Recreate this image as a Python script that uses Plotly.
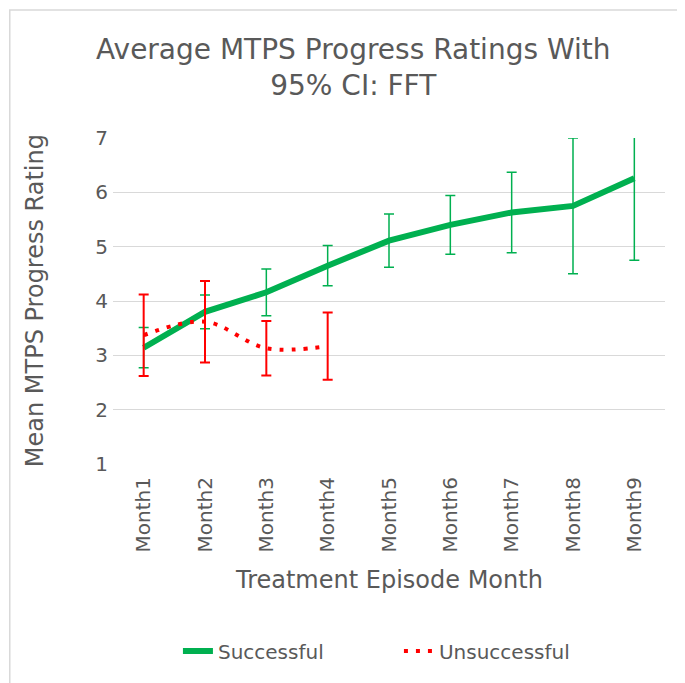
import plotly.graph_objects as go

# data
months = ["Month1", "Month2", "Month3", "Month4", "Month5",
          "Month6", "Month7", "Month8", "Month9"]

successful = [3.14, 3.80, 4.16, 4.65, 5.11, 5.40, 5.63, 5.75, 6.26]
successful_ci = [0.37, 0.31, 0.43, 0.37, 0.49, 0.54, 0.74, 1.25, 1.51]

unsuccessful_months = ["Month1", "Month2", "Month3", "Month4"]
unsuccessful = [3.37, 3.62, 3.13, 3.17]
unsuccessful_ci = [0.75, 0.75, 0.50, 0.62]

y_ticks = [1, 2, 3, 4, 5, 6, 7]

FONT = "DejaVu Sans"
GREY = "#595959"
GREEN = "#00B050"
RED = "#FF0000"

fig = go.Figure()
fig.add_trace(go.Scatter(
    x=months, y=successful, name="Successful", mode="lines",
    line=dict(color=GREEN, width=6),
    error_y=dict(type="data", array=successful_ci, visible=True,
                 color=GREEN, thickness=1.5, width=5),
))
fig.add_trace(go.Scatter(
    x=unsuccessful_months, y=unsuccessful, name="Unsuccessful", mode="lines",
    line=dict(color=RED, width=4, dash="4px,8px", shape="spline"),
    error_y=dict(type="data", array=unsuccessful_ci, visible=True,
                 color=RED, thickness=2, width=5),
))

# outer chart border
fig.add_shape(type="rect", xref="paper", yref="paper",
              x0=-0.187, x1=1.06, y0=-0.72, y1=1.393,
              line=dict(color="#D9D9D9", width=1.5), fillcolor="rgba(0,0,0,0)")

# axis titles
fig.add_annotation(text="Mean MTPS Progress Rating", xref="paper", yref="paper",
                   x=-0.141, y=0.5, xanchor="center", yanchor="middle",
                   textangle=-90, showarrow=False,
                   font=dict(size=24, color=GREY))
fig.add_annotation(text="Treatment Episode Month", xref="paper", yref="paper",
                   x=0.5, y=-0.356, xanchor="center", yanchor="middle",
                   showarrow=False, font=dict(size=24, color=GREY))

# page body adds an 8px margin, so the figure is a bit smaller than the window
fig.update_layout(
    width=677, height=675,
    margin=dict(l=105, r=20, t=130, b=219),
    paper_bgcolor="white", plot_bgcolor="white",
    font=dict(family=FONT, color=GREY),
    title=dict(text="Average MTPS Progress Ratings With<br>95% CI: FFT",
               x=0.51, xanchor="center", y=0.925, yanchor="top",
               font=dict(size=28, color=GREY)),
    xaxis=dict(tickangle=-90, tickfont=dict(size=20, color=GREY), automargin=False,
               ticklabelstandoff=8,
               range=[-0.5, 8.5], showgrid=False, showline=False, ticks=""),
    yaxis=dict(range=[1, 7], tickvals=y_ticks, tickfont=dict(size=20, color=GREY),
               automargin=False, ticklabelstandoff=4,
               showgrid=True, gridcolor="#D9D9D9", gridwidth=1.2,
               zeroline=False, showline=False, ticks=""),
    legend=dict(orientation="h", x=0.518, xanchor="center", y=-0.574, yanchor="middle",
                font=dict(size=20, color=GREY), entrywidth=176),
    showlegend=True,
)

fig.write_html("out.html")
